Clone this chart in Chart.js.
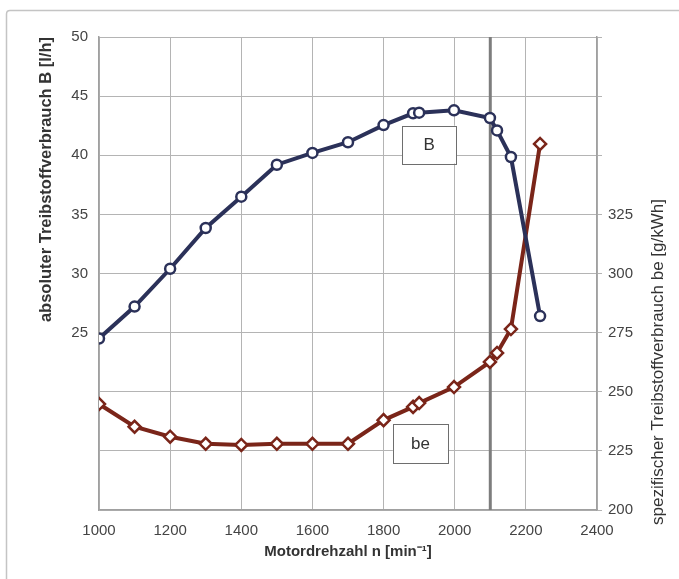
<!DOCTYPE html>
<html>
<head>
<meta charset="utf-8">
<script src="https://cdn.jsdelivr.net/npm/chart.js@4.4.1/dist/chart.umd.min.js"></script>
<style>
  html, body { margin: 0; padding: 0; background: #fff; }
  #wrap { width: 679px; height: 579px; }
</style>
</head>
<body>
<div id="wrap"><canvas id="chart"></canvas></div>
<script>
// Drehzahl n [min-1]
const drehzahlB  = [1000, 1100, 1200, 1300, 1400, 1500, 1600, 1700, 1800, 1883, 1900, 1998, 2099, 2119, 2158, 2240];
const verbrauchB = [24.5, 27.2, 30.4, 33.85, 36.5, 39.2, 40.2, 41.1, 42.55, 43.55, 43.6, 43.8, 43.15, 42.1, 39.85, 26.4];

const drehzahlBe  = [1000, 1100, 1200, 1300, 1400, 1500, 1600, 1700, 1800, 1883, 1900, 1998, 2099, 2119, 2158, 2240];
const verbrauchBe = [244.8, 235.2, 231, 228, 227.5, 228, 228, 228, 238, 243.6, 245.2, 252, 262.6, 266.4, 276.5, 354.8];

const xTicks  = [1000, 1200, 1400, 1600, 1800, 2000, 2200, 2400];
const bTicks  = [25, 30, 35, 40, 45, 50];        // beschriftete Werte links
const beTicks = [200, 225, 250, 275, 300, 325];  // beschriftete Werte rechts

const markerLinie = 2100;

const colB  = '#2b3159';
const colBe = '#7a2519';
const gridCol = '#b4b4b4';
const fontFam = '"Liberation Sans", Arial, sans-serif';

const toPts = (xs, ys) => xs.map((x, i) => ({ x: x, y: ys[i] }));

// Rahmen, senkrechte Linie, Beschriftungskaesten, rechter Achsentitel
const extras = {
  id: 'extras',
  beforeDatasetsDraw(chart) {
    const { ctx, chartArea, scales } = chart;
    const x = scales.x.getPixelForValue(markerLinie);
    ctx.save();
    ctx.strokeStyle = '#7d7d7d';
    ctx.lineWidth = 3;
    ctx.beginPath();
    ctx.moveTo(x, chartArea.top);
    ctx.lineTo(x, chartArea.bottom);
    ctx.stroke();
    ctx.restore();
  },
  afterDraw(chart) {
    const { ctx, scales } = chart;
    ctx.save();
    // aeusserer Rahmen
    ctx.strokeStyle = '#c4c4c4';
    ctx.lineWidth = 1.5;
    ctx.beginPath();
    ctx.moveTo(6.5, 579);
    ctx.lineTo(6.5, 14);
    ctx.quadraticCurveTo(6.5, 10.5, 10, 10.5);
    ctx.lineTo(679, 10.5);
    ctx.stroke();

    // Kaesten B und be
    const box = (label, x0, x1, y0, y1, yScale) => {
      const l = scales.x.getPixelForValue(x0), r = scales.x.getPixelForValue(x1);
      const t = yScale.getPixelForValue(y0), b = yScale.getPixelForValue(y1);
      ctx.fillStyle = '#fff';
      ctx.fillRect(l, t, r - l, b - t);
      ctx.strokeStyle = '#6e6e6e';
      ctx.lineWidth = 1;
      ctx.strokeRect(Math.round(l) + 0.5, Math.round(t) + 0.5, Math.round(r - l), Math.round(b - t));
      ctx.fillStyle = '#333';
      ctx.font = '17px ' + fontFam;
      ctx.textAlign = 'center';
      ctx.textBaseline = 'middle';
      ctx.fillText(label, (l + r) / 2, (t + b) / 2 + 1);
    };
    box('B', 1852, 2004, 42.5, 39.3, scales.y);
    box('be', 1826, 1981, 236.4, 219.9, scales.y1);

    // rechter Achsentitel (von unten nach oben lesend)
    ctx.translate(658, 362);
    ctx.rotate(-Math.PI / 2);
    ctx.fillStyle = '#333';
    ctx.font = '17px ' + fontFam;
    ctx.textAlign = 'center';
    ctx.textBaseline = 'middle';
    ctx.fillText('spezifischer Treibstoffverbrauch be [g/kWh]', 0, 0);
    ctx.restore();
  }
};

new Chart(document.getElementById('chart'), {
  type: 'line',
  data: {
    datasets: [
      {
        label: 'B',
        data: toPts(drehzahlB, verbrauchB),
        yAxisID: 'y',
        borderColor: colB,
        borderWidth: 4,
        pointStyle: 'circle',
        pointRadius: 5,
        pointBorderWidth: 2.5,
        pointBackgroundColor: '#fff',
        pointBorderColor: colB,
        tension: 0
      },
      {
        label: 'be',
        data: toPts(drehzahlBe, verbrauchBe),
        yAxisID: 'y1',
        borderColor: colBe,
        borderWidth: 4,
        pointStyle: 'rectRot',
        pointRadius: 6,
        pointBorderWidth: 2.5,
        pointBackgroundColor: '#fff',
        pointBorderColor: colBe,
        tension: 0
      }
    ]
  },
  options: {
    responsive: true,
    maintainAspectRatio: false,
    animation: false,
    events: [],
    layout: { padding: { top: 37, left: 0, right: 0, bottom: 0 } },
    plugins: { legend: { display: false }, tooltip: { enabled: false } },
    scales: {
      x: {
        type: 'linear',
        min: 1000, max: 2400,
        afterFit: s => { s.height = 69; },
        afterBuildTicks: s => { s.ticks = xTicks.map(v => ({ value: v })); },
        grid: { color: gridCol, lineWidth: 1, drawTicks: false },
        border: { color: '#a0a0a0', width: 1.5 },
        ticks: {
          color: '#444',
          font: { family: fontFam, size: 15 },
          padding: 12,
          maxRotation: 0,
          callback: v => String(v)
        },
        title: {
          display: true,
          text: 'Motordrehzahl n [min⁻¹]',
          color: '#333',
          font: { family: fontFam, size: 15, weight: 'bold' },
          padding: { top: 4, bottom: 18 }
        }
      },
      y: {
        position: 'left',
        min: 10, max: 50,
        afterFit: s => { s.width = 99; },
        ticks: {
          stepSize: 5,
          color: '#444',
          font: { family: fontFam, size: 15 },
          padding: 11,
          callback: v => bTicks.includes(v) ? v : ''
        },
        grid: { color: gridCol, lineWidth: 1, drawTicks: false },
        border: { color: '#a0a0a0', width: 1.5 },
        title: {
          display: true,
          text: 'absoluter Treibstoffverbrauch B [l/h]',
          align: 'end',
          color: '#333',
          font: { family: fontFam, size: 16.5, weight: 'bold' },
          padding: { top: 37, bottom: 0 }
        }
      },
      y1: {
        position: 'right',
        min: 200, max: 400,
        afterFit: s => { s.width = 82; },
        ticks: {
          stepSize: 25,
          color: '#444',
          font: { family: fontFam, size: 15 },
          padding: 6,
          callback: v => beTicks.includes(v) ? v : ''
        },
        grid: { drawOnChartArea: false, color: gridCol, tickLength: 5 },
        border: { color: '#a0a0a0', width: 1.5 }
      }
    }
  },
  plugins: [extras]
});
</script>
</body>
</html>
